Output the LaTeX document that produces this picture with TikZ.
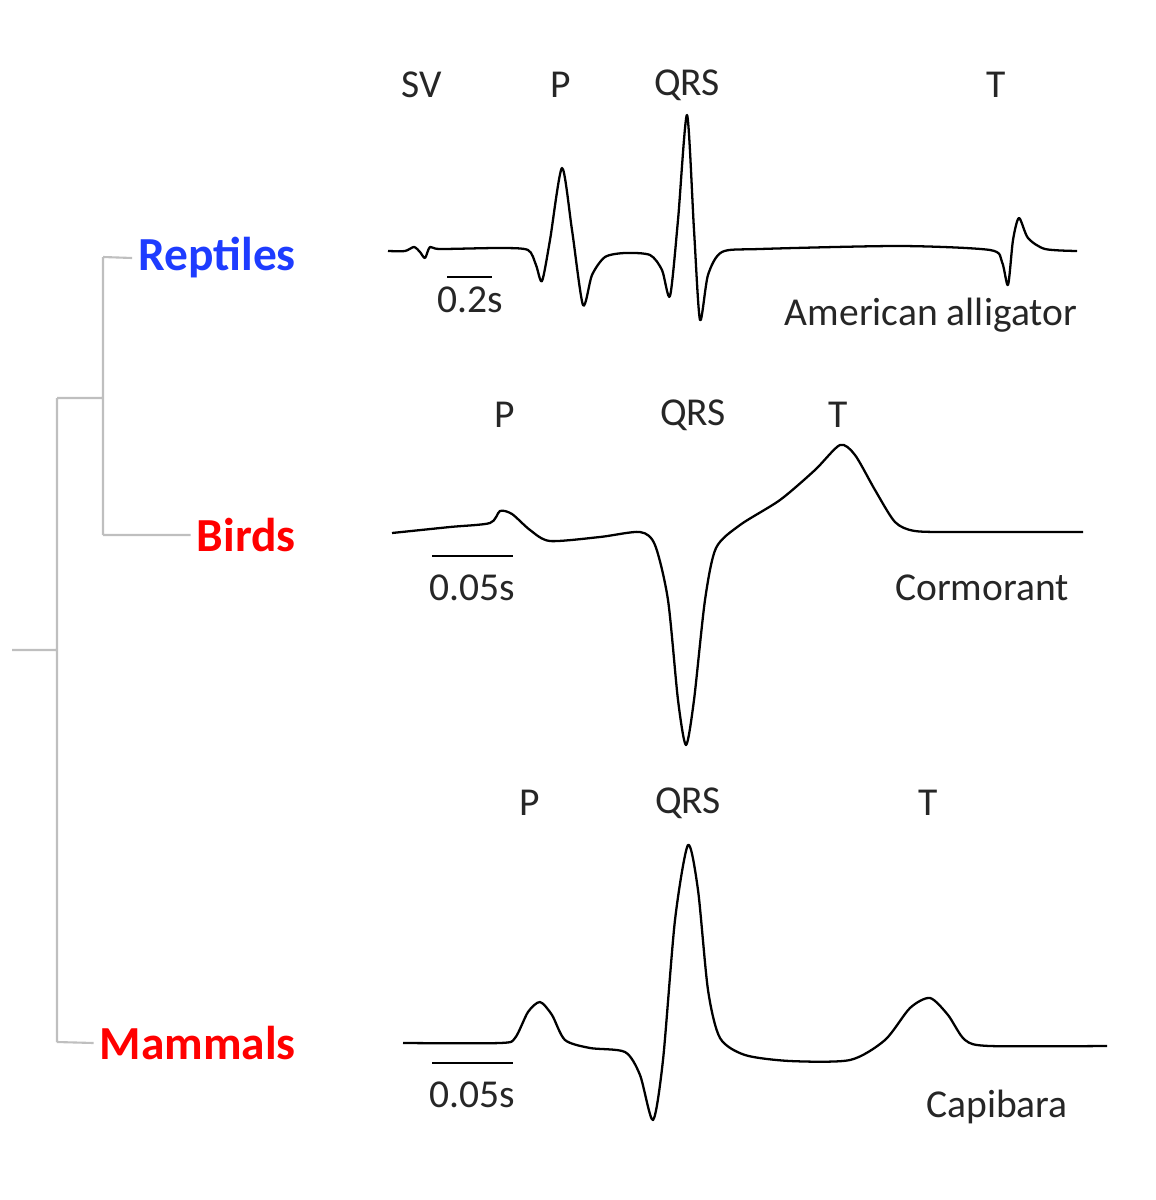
\documentclass[tikz,border=0pt]{standalone}
\usepackage{fontspec}
\setmainfont{Carlito}
\begin{document}
\begin{tikzpicture}[x=0.02cm,y=-0.02cm,
  tree/.style={draw=black!25,line width=1.2pt},
  ecg/.style={line width=1.3pt,line join=round},
  lab/.style={font=\fontsize{22.5}{24}\selectfont,text=black!85},
  clade/.style={font=\bfseries\fontsize{27}{30}\selectfont},
  bar/.style={line width=1.3pt}]
\useasboundingbox (0,0) rectangle (1156,1200);
% tree
\coordinate (root) at (12,650);
\coordinate (n1) at (57,650);
\coordinate (n1t) at (57,398);
\coordinate (n1b) at (57,1042);
\coordinate (n2) at (103,398);
\coordinate (n2t) at (103,257);
\coordinate (n2b) at (103,535);
\node[clade,text={rgb,255:red,30;green,60;blue,255},anchor=east] (rep) at (302,258) {Reptiles};
\node[clade,text=red,anchor=east] (bird) at (302,535) {Birds};
\node[clade,text=red,anchor=east] (mam) at (302,1043) {Mammals};
\draw[tree] (root) -- (n1) (n1t) -- (n1b) (n1t) -- (n2) (n2t) -- (n2b)
  (n2t) -- (rep.west) (n2b) -- (bird.west) (n1b) -- (mam.west);
% alligator
\draw[ecg] plot[smooth,tension=0.45] coordinates {(388,251) (405,251) (414,247) (420,252) (425,258) (430,247) (440,249) (500,248) (528,250) (536,265) (542,281) (550,240) (562,168) (572,230) (583,305) (592,275) (605,257) (625,253) (650,255) (662,270) (670,296) (678,220) (687,115) (694,230) (700,320) (708,275) (722,252) (760,249) (900,246) (990,250) (1002,262) (1008,285) (1013,240) (1019,218) (1028,238) (1045,249) (1077,251)};
\node[lab] (sv) at (422,85) {SV};
\node[lab] (pa) at (561,85) {P};
\node[lab] (qa) at (687,85) {QRS};
\node[lab] (ta) at (996,85) {T};
\node[lab] (aa) at (931,315) {American alligator};
\coordinate (sa1) at (447,277); \coordinate (sa2) at (492,277);
\draw[bar] (sa1) -- (sa2);
\node[lab] (sla) at (470,300) {0.2s};
% cormorant
\draw[ecg] plot[smooth,tension=0.45] coordinates {(392,533) (450,527) (490,523) (500,511) (512,514) (530,530) (550,541) (600,537) (640,532) (655,545) (668,600) (678,700) (686,745) (694,700) (705,600) (716,548) (740,525) (780,500) (815,470) (840,445) (855,455) (875,490) (895,522) (915,531) (960,532) (1083,532)};
\node[lab] (pb) at (505,415) {P};
\node[lab] (qb) at (693,415) {QRS};
\node[lab] (tb) at (838,415) {T};
\node[lab] (cb) at (982,588) {Cormorant};
\coordinate (sb1) at (432,556); \coordinate (sb2) at (513,556);
\draw[bar] (sb1) -- (sb2);
\node[lab] (slb) at (472,588) {0.05s};
% capibara
\draw[ecg] plot[smooth,tension=0.45] coordinates {(403,1043) (500,1043) (515,1038) (528,1012) (540,1002) (552,1015) (565,1040) (590,1048) (625,1052) (640,1075) (653,1120) (663,1060) (675,920) (688,845) (698,890) (708,990) (720,1038) (745,1055) (790,1061) (850,1060) (885,1040) (910,1008) (930,998) (948,1015) (965,1040) (990,1046) (1107,1046)};
\node[lab] (pc) at (530,803) {P};
\node[lab] (qc) at (688,803) {QRS};
\node[lab] (tc) at (928,803) {T};
\node[lab] (cc) at (997,1107) {Capibara};
\coordinate (sc1) at (432,1063); \coordinate (sc2) at (513,1063);
\draw[bar] (sc1) -- (sc2);
\node[lab] (slc) at (472,1095) {0.05s};
\end{tikzpicture}
\end{document}
